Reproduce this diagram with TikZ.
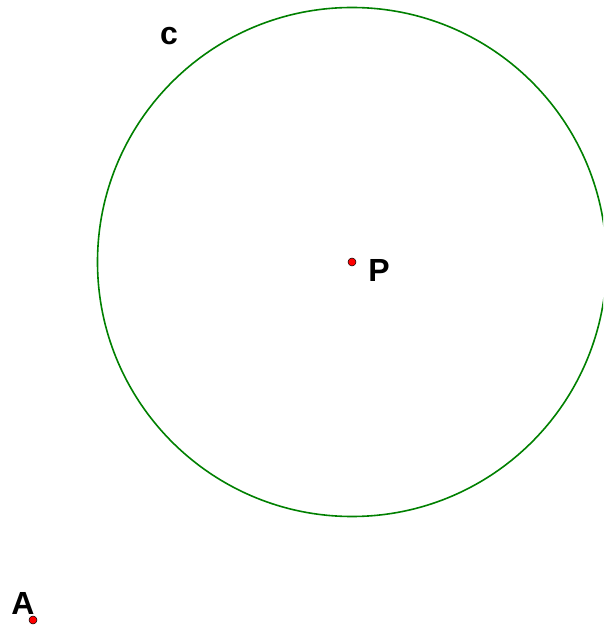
\documentclass[tikz,border=0pt]{standalone}
\usepackage{fontspec}
\setmainfont{Liberation Sans}
\definecolor{cgreen}{RGB}{0,128,0}
\definecolor{pred}{RGB}{255,0,0}
\tikzset{
  pt/.style={circle,fill=pred,draw=black,line width=0.5pt,inner sep=0pt,minimum size=8pt},
  lbl/.style={font=\fontsize{32}{32}\selectfont\bfseries,inner sep=0pt}
}
\begin{document}
\begin{tikzpicture}[x=1pt,y=1pt]
\useasboundingbox (0,0) rectangle (603,627);
\clip (0,0) rectangle (603,627);
\coordinate (Pc) at (352,365);
\draw[cgreen,line width=1.6pt] (Pc) circle[radius=254.5];
\node[pt] (P) at (Pc) {};
\node[pt] (A) at (33,7) {};
\node[lbl] (Pl) at (379,357) {P};
\node[lbl] (Al) at (23,24) {A};
\node[lbl] (cl) at (169,591) {c};
\end{tikzpicture}
\end{document}
